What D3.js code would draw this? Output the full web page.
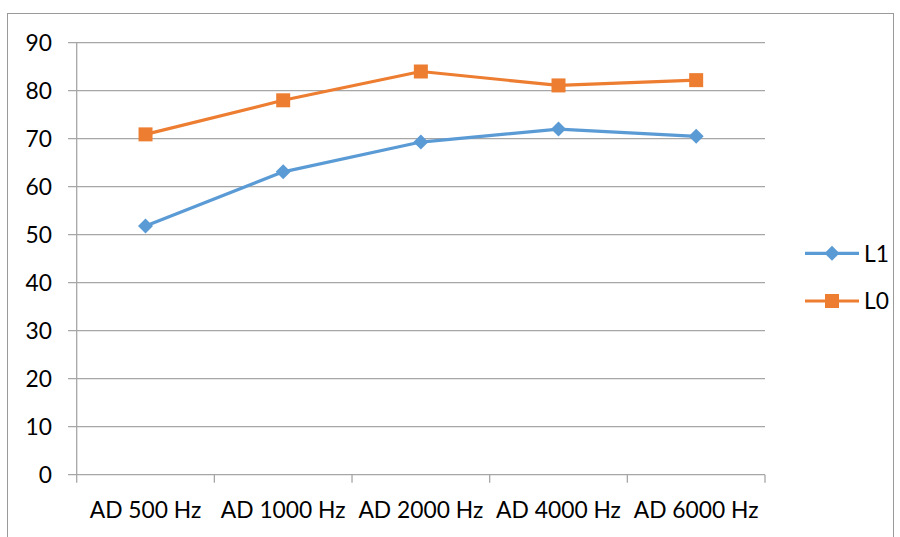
<!DOCTYPE html>
<html><head><meta charset="utf-8">
<script src="https://cdn.jsdelivr.net/npm/d3@7"></script>
<style>body{margin:0;background:#fff}svg{display:block}</style>
</head><body><svg id="c" width="900" height="537"></svg>
<script>
const categories = ["AD 500 Hz","AD 1000 Hz","AD 2000 Hz","AD 4000 Hz","AD 6000 Hz"];
const seriesNames = ["L1","L0"];
const l1Values = [51.8, 63.1, 69.3, 72.0, 70.5];
const l0Values = [70.9, 78.0, 84.0, 81.1, 82.2];
const yTicks = [0,10,20,30,40,50,60,70,80,90];
const colors = ["#5B9BD5","#ED7D31"];

const svg = d3.select("#c");
const font = "Lato, 'Open Sans', sans-serif";
const fs = 22.8;
const L = 76.7, R = 765, T = 42.7, B = 474.7;

svg.append("rect").attr("x",7.5).attr("y",13.5).attr("width",886).attr("height",540)
  .attr("fill","none").attr("stroke","#9a9a9a").attr("stroke-width",1);

const x = d3.scaleBand().domain(categories).range([L,R]);
const y = d3.scaleLinear().domain([0,90]).range([B,T]);

svg.append("g").selectAll("line").data(yTicks).join("line")
  .attr("x1",68).attr("x2",R).attr("y1",d=>y(d)).attr("y2",d=>y(d))
  .attr("stroke","#a6a6a6").attr("stroke-width",1.3);
svg.append("line").attr("x1",L).attr("x2",L).attr("y1",T).attr("y2",B)
  .attr("stroke","#a6a6a6").attr("stroke-width",1.3);
const xt = categories.map(c=>x(c)).concat([R]);
svg.append("g").selectAll("line").data(xt).join("line")
  .attr("x1",d=>d).attr("x2",d=>d).attr("y1",B).attr("y2",B+8)
  .attr("stroke","#a6a6a6").attr("stroke-width",1.3);
svg.append("g").selectAll("text").data(yTicks).join("text")
  .attr("x",52).attr("y",d=>y(d)).attr("dy","0.36em").attr("text-anchor","end")
  .attr("font-family",font).attr("font-size",fs).attr("fill","#000").text(d=>d);
svg.append("g").selectAll("text").data(categories).join("text")
  .attr("x",d=>x(d)+x.bandwidth()/2).attr("y",517.5).attr("text-anchor","middle")
  .attr("font-family",font).attr("font-size",fs).attr("fill","#000").text(d=>d);

const series = [l1Values, l0Values];
const line = d3.line().x((d,i)=>x(categories[i])+x.bandwidth()/2).y(d=>y(d));
const diamond = "M0,-7.5L7.5,0L0,7.5L-7.5,0Z";
const square = "M-7,-7H7V7H-7Z";
const shapes = [diamond, square];
series.forEach((vals,si)=>{
  svg.append("path").datum(vals).attr("d",line).attr("fill","none")
    .attr("stroke",colors[si]).attr("stroke-width",3.2).attr("stroke-linejoin","round");
  svg.append("g").selectAll("path").data(vals).join("path")
    .attr("transform",(d,i)=>`translate(${x(categories[i])+x.bandwidth()/2},${y(d)})`)
    .attr("d",shapes[si]).attr("fill",colors[si]);
});

const legY = [253.3, 301];
seriesNames.forEach((n,si)=>{
  const g = svg.append("g");
  g.append("line").attr("x1",805).attr("x2",859).attr("y1",legY[si]).attr("y2",legY[si])
    .attr("stroke",colors[si]).attr("stroke-width",3.2);
  g.append("path").attr("transform",`translate(832,${legY[si]})`).attr("d",shapes[si]).attr("fill",colors[si]);
  g.append("text").attr("x",864).attr("y",legY[si]).attr("dy","0.36em")
    .attr("font-family",font).attr("font-size",fs).attr("fill","#000").text(n);
});
</script></body></html>
